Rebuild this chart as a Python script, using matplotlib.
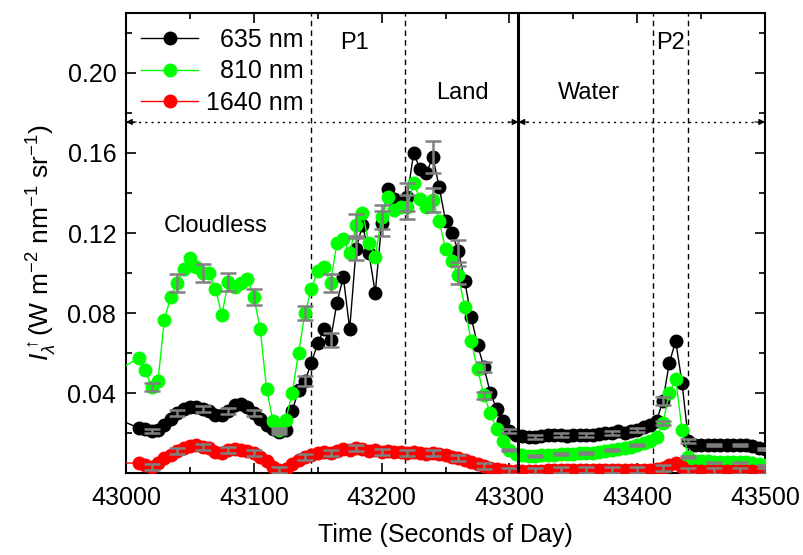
import numpy as np
import matplotlib
matplotlib.use('Agg')
import matplotlib.pyplot as plt
from matplotlib.lines import Line2D
from matplotlib.ticker import MultipleLocator

plt.rcParams['font.family'] = ['Liberation Sans', 'DejaVu Sans']
plt.rcParams['mathtext.fontset'] = 'custom'
plt.rcParams['mathtext.rm'] = 'Liberation Sans'
plt.rcParams['mathtext.it'] = 'Liberation Sans:italic'

# ----- data -----
# time in seconds of day: one lead-in point, then every 5 s
time = np.concatenate([[42990], np.arange(43010, 43501, 5)])

rad_635 = [0.028, 0.0225, 0.022, 0.021, 0.0215, 0.024, 0.027, 0.030, 0.032, 0.033,
           0.033, 0.032, 0.031, 0.029, 0.029, 0.031, 0.034, 0.0345, 0.033, 0.030,
           0.027, 0.024, 0.022, 0.0205, 0.0215, 0.031, 0.0415, 0.046, 0.055, 0.065,
           0.072, 0.0665, 0.085, 0.098, 0.072, 0.112, 0.124, 0.110, 0.090, 0.125,
           0.142, 0.137, 0.135, 0.138, 0.160, 0.152, 0.150, 0.158, 0.143, 0.126,
           0.120, 0.111, 0.096, 0.078, 0.064, 0.053, 0.040, 0.032, 0.026, 0.021,
           0.019, 0.0185, 0.018, 0.018, 0.0185, 0.019, 0.019, 0.019, 0.0185, 0.019,
           0.019, 0.019, 0.019, 0.0195, 0.020, 0.020, 0.021, 0.020, 0.021, 0.0215,
           0.023, 0.024, 0.026, 0.036, 0.055, 0.066, 0.045, 0.016, 0.014, 0.014,
           0.014, 0.014, 0.014, 0.014, 0.014, 0.014, 0.014, 0.0135, 0.0125, 0.012]

rad_810 = [0.050, 0.0575, 0.0515, 0.043, 0.046, 0.0765, 0.088, 0.095, 0.102, 0.1075,
           0.103, 0.100, 0.100, 0.092, 0.079, 0.0955, 0.093, 0.095, 0.097, 0.088,
           0.072, 0.042, 0.026, 0.0215, 0.0265, 0.040, 0.060, 0.080, 0.092, 0.101,
           0.103, 0.095, 0.115, 0.117, 0.110, 0.124, 0.130, 0.115, 0.108, 0.128,
           0.138, 0.1315, 0.133, 0.133, 0.145, 0.137, 0.133, 0.1365, 0.126, 0.112,
           0.106, 0.099, 0.083, 0.066, 0.052, 0.039, 0.030, 0.022, 0.016, 0.0115,
           0.0095, 0.009, 0.0085, 0.0085, 0.009, 0.009, 0.009, 0.0095, 0.0095, 0.0095,
           0.010, 0.010, 0.010, 0.0105, 0.011, 0.0115, 0.012, 0.0125, 0.013, 0.014,
           0.015, 0.016, 0.018, 0.025, 0.040, 0.047, 0.0215, 0.008, 0.006, 0.006,
           0.006, 0.0055, 0.0055, 0.0055, 0.0055, 0.0055, 0.0055, 0.005, 0.0045, 0.004]

rad_1640 = [0.005, 0.005, 0.004, 0.003, 0.005, 0.0075, 0.009, 0.011, 0.0125, 0.0135,
            0.014, 0.013, 0.0125, 0.0105, 0.010, 0.0115, 0.012, 0.0115, 0.011, 0.010,
            0.008, 0.006, 0.003, 0.0015, 0.002, 0.0045, 0.0065, 0.008, 0.009, 0.010,
            0.0105, 0.010, 0.011, 0.012, 0.0115, 0.0125, 0.012, 0.011, 0.0115, 0.0105,
            0.011, 0.0105, 0.0105, 0.010, 0.0105, 0.010, 0.0095, 0.010, 0.0095, 0.009,
            0.008, 0.0075, 0.0065, 0.0055, 0.0045, 0.0035, 0.0025, 0.002, 0.0015, 0.0012,
            0.0012, 0.0012, 0.0012, 0.0012, 0.0012, 0.0013, 0.0013, 0.0013, 0.0013, 0.0013,
            0.0013, 0.0013, 0.0013, 0.0014, 0.0014, 0.0014, 0.0014, 0.0015, 0.0015, 0.0015,
            0.0015, 0.0015, 0.002, 0.0025, 0.004, 0.005, 0.003, 0.0012, 0.001, 0.001,
            0.001, 0.001, 0.001, 0.001, 0.001, 0.001, 0.001, 0.001, 0.001, 0.001]

# uncertainties
err_frac_635 = 0.05
err_frac_810 = 0.045
err_abs_1640 = 0.0015

# region boundaries and labels
p1_edges = [43145, 43218]
p2_edges = [43412, 43440]
coast = 43307
split_level = 0.1755
region_text = [("Cloudless", 43070, 0.1235), ("P1", 43179, 0.215), ("Land", 43263, 0.19),
               ("Water", 43362, 0.19), ("P2", 43426, 0.215)]

labels = ["  635 nm", "  810 nm", "1640 nm"]
colors = ["#000000", "#00ff00", "#ff0000"]

time = np.array(time)
series = [np.array(rad_635), np.array(rad_810), np.array(rad_1640)]
errors = [series[0]*err_frac_635, series[1]*err_frac_810, np.full(len(time), err_abs_1640)]

# ----- Plot -----
fig = plt.figure(figsize=(8.04, 5.55), dpi=100)
ax = fig.add_axes([0.1567, 0.1477, 0.795, 0.8289])

for y, c in zip(series, colors):
    ax.plot(time, y, '-', color=c, lw=1.0, marker='o', ms=9, mec=c, mfc=c, zorder=3)

sel = (time - 43000) % 20 == 0
for y, e in zip(series, errors):
    ax.errorbar(time[sel], y[sel], yerr=e[sel], fmt='none', ecolor='#808080',
                elinewidth=1.8, capsize=6, capthick=1.8, zorder=4)

# boundaries
for xv in p1_edges + p2_edges:
    ax.axvline(xv, color='k', lw=1, ls=(0, (4, 3)), zorder=2)
ax.axvline(coast, color='k', lw=2.2, zorder=5)

# dotted split line with arrows
ax.plot([43000, 43500], [split_level, split_level], color='k', lw=1, ls=(0, (1.5, 3)), zorder=2)
arr = dict(arrowstyle='-|>', color='k', lw=0.8, mutation_scale=9, shrinkA=0, shrinkB=0)
ax.annotate('', xy=(43000, split_level), xytext=(43008, split_level), arrowprops=arr)
ax.annotate('', xy=(coast, split_level), xytext=(coast - 8, split_level), arrowprops=arr)
ax.annotate('', xy=(coast, split_level), xytext=(coast + 8, split_level), arrowprops=arr)
ax.annotate('', xy=(43500, split_level), xytext=(43492, split_level), arrowprops=arr)

for txt, xt, yt in region_text:
    ax.text(xt, yt, txt, fontsize=17, ha='center', va='center')

# legend
handles = [Line2D([], [], color=c, lw=1, marker='o', ms=9, mfc=c, mec=c) for c in colors]
ax.legend(handles, labels, loc='upper left', frameon=False, fontsize=18,
          handlelength=2.3, handletextpad=0.3, labelspacing=0.3,
          borderaxespad=0.0, borderpad=0.6, bbox_to_anchor=(0.0, 1.0))

# axes
ax.set_xlim(43000, 43500)
ax.set_ylim(0, 0.23)
ax.xaxis.set_major_locator(MultipleLocator(100))
ax.xaxis.set_minor_locator(MultipleLocator(50))
ax.set_yticks([0.04, 0.08, 0.12, 0.16, 0.20])
ax.yaxis.set_minor_locator(MultipleLocator(0.02))
ax.tick_params(which='both', direction='in', top=True, right=True, labelsize=18, width=1.2)
ax.tick_params(which='major', length=7)
ax.tick_params(which='minor', length=4)
ax.tick_params(axis='x', pad=9)
ax.tick_params(axis='y', pad=7)
for sp in ax.spines.values():
    sp.set_linewidth(1.5)

ax.set_xlabel('Time (Seconds of Day)', fontsize=18, labelpad=10)
ax.set_ylabel(r'$I_{\lambda}^{\uparrow}$(W m$^{-2}$ nm$^{-1}$ sr$^{-1}$)', fontsize=19, labelpad=6)

plt.savefig("out.png", dpi=100)
